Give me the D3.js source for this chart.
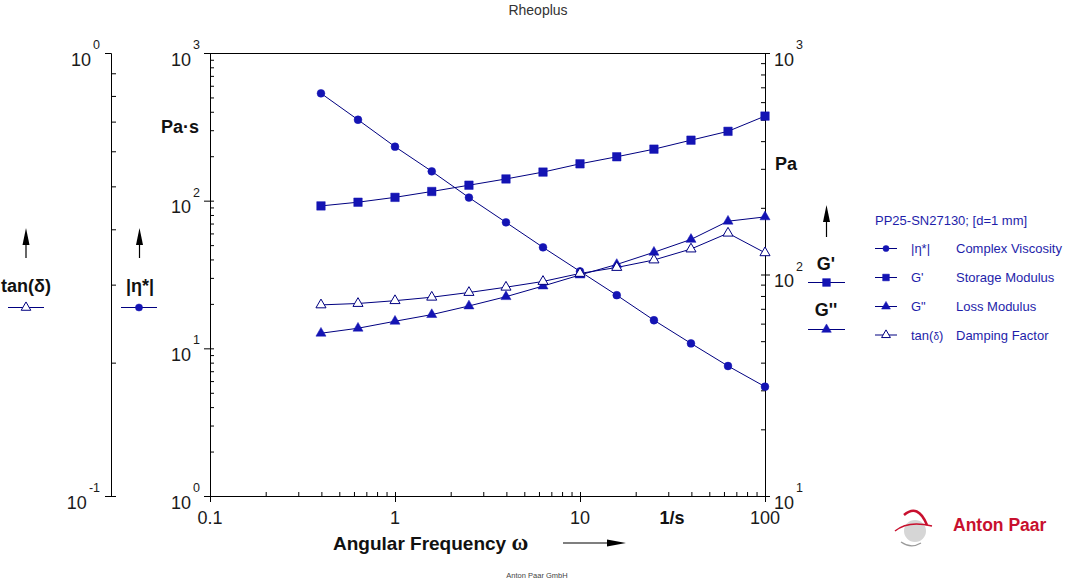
<!DOCTYPE html>
<html>
<head>
<meta charset="utf-8">
<script src="https://cdn.jsdelivr.net/npm/d3@7"></script>
<style>
  html, body { margin: 0; padding: 0; background: #fff; }
  svg { display: block; }
  text { font-family: Arial, "Liberation Sans", sans-serif; }
</style>
</head>
<body>
<svg id="chart" width="1065" height="581"></svg>
<script>
// ---------- data ----------
const freq      = [0.398, 0.631, 1, 1.58, 2.51, 3.98, 6.31, 10, 15.8, 25.1, 39.8, 63.1, 100];
const viscosity = [533, 353, 232, 158, 105, 71.3, 48.3, 33.2, 22.9, 15.5, 10.8, 7.59, 5.50];
const storage   = [204, 212, 223, 237, 253, 270, 290, 316, 340, 368, 404, 443, 519];
const loss      = [54.3, 57.2, 61.5, 65.9, 72.1, 79.4, 88.7, 99.5, 111, 126, 144, 174, 182];
const tanDelta  = [0.270, 0.272, 0.276, 0.281, 0.288, 0.296, 0.305, 0.318, 0.328, 0.341, 0.361, 0.392, 0.354];

const xTicks = [0.1, 1, 10, 100];
const xTickLabels = ["0.1", "1", "10", "100"];
const viscTicks = [1, 10, 100, 1000];
const gTicks = [10, 100, 1000];
const tanTicks = [0.1, 1];

const legendTitle = "PP25-SN27130; [d=1 mm]";
const legendShort = ["|η*|", "G'", "G\"", "tan(δ)"];
const legendLong  = ["Complex Viscosity", "Storage Modulus", "Loss Modulus", "Damping Factor"];

// ---------- setup ----------
const svg = d3.select("#chart");
const L = 210, R = 765, T = 53, B = 496;
const TAN_X = 111;

const x  = d3.scaleLog().domain([0.1, 100]).range([L, R]);
const yV = d3.scaleLog().domain([1, 1000]).range([B, T]);
const yG = d3.scaleLog().domain([10, 1000]).range([B, T]);
const yT = d3.scaleLog().domain([0.1, 1]).range([B, T]);

const MARK = "#1414b4";
const LINE = "#000080";
const LEG = "#1e1eaa";

function minors(decades) {
  const out = [];
  decades.forEach(d => { for (let k = 1; k <= 9; k++) out.push(k * d); });
  return out;
}
function styleAxis(g) {
  g.selectAll("path.domain").attr("stroke", "#000").attr("stroke-width", 1);
  g.selectAll(".tick line").attr("stroke", "#000").attr("stroke-width", 1);
  g.selectAll(".tick text").remove();
}

// top border
svg.append("line").attr("x1", L - 5).attr("x2", R + 5).attr("y1", T + 0.5).attr("y2", T + 0.5)
  .attr("stroke", "#000").attr("stroke-width", 1);

// viscosity axis (left)
let g = svg.append("g").attr("transform", `translate(${L},0)`);
g.call(d3.axisLeft(yV).tickValues(minors([1, 10, 100]).concat([1000])).tickSize(-4).tickSizeOuter(0).tickFormat(""));
styleAxis(g);
g = svg.append("g").attr("transform", `translate(${L},0)`);
g.call(d3.axisLeft(yV).tickValues(viscTicks).tickSize(6).tickSizeOuter(0).tickFormat(""));
styleAxis(g);

// tan axis (far left)
g = svg.append("g").attr("transform", `translate(${TAN_X},0)`);
g.call(d3.axisLeft(yT).tickValues(minors([0.1])).tickSize(-5).tickSizeOuter(0).tickFormat(""));
styleAxis(g);
g = svg.append("g").attr("transform", `translate(${TAN_X},0)`);
g.call(d3.axisLeft(yT).tickValues(tanTicks).tickSize(6).tickSizeOuter(0).tickFormat(""));
styleAxis(g);

// G axis (right)
g = svg.append("g").attr("transform", `translate(${R},0)`);
g.call(d3.axisRight(yG).tickValues(minors([10, 100]).concat([1000])).tickSize(-4).tickSizeOuter(0).tickFormat(""));
styleAxis(g);
g = svg.append("g").attr("transform", `translate(${R},0)`);
g.call(d3.axisRight(yG).tickValues(gTicks).tickSize(5).tickSizeOuter(0).tickFormat(""));
styleAxis(g);

// x axis (bottom)
g = svg.append("g").attr("transform", `translate(0,${B})`);
g.call(d3.axisBottom(x).tickValues(minors([0.1, 1, 10]).concat([100])).tickSize(-4).tickSizeOuter(0).tickFormat(""));
styleAxis(g);
g = svg.append("g").attr("transform", `translate(0,${B})`);
g.call(d3.axisBottom(x).tickValues(xTicks).tickSize(6).tickSizeOuter(0).tickFormat(""));
styleAxis(g);

// ---------- tick labels ----------
function powLabel(xpos, ypos, exp, anchor) {
  const t = svg.append("text").attr("x", xpos).attr("y", ypos + 12.5)
    .attr("text-anchor", anchor).attr("fill", "#1a1a1a");
  t.append("tspan").attr("font-size", 18).text("10");
  t.append("tspan").attr("font-size", 12.5).attr("dx", 2).attr("dy", -16.5).text(exp);
}
viscTicks.forEach(v => powLabel(L - 10, yV(v), Math.round(Math.log10(v)), "end"));
tanTicks.forEach(v => powLabel(TAN_X - 11, yT(v), Math.round(Math.log10(v)), "end"));
gTicks.forEach(v => powLabel(R + 9, yG(v), Math.round(Math.log10(v)), "start"));

xTicks.forEach((v, i) => {
  svg.append("text").attr("x", x(v)).attr("y", 524).attr("text-anchor", "middle")
    .attr("font-size", 18).attr("fill", "#1a1a1a").text(xTickLabels[i]);
});

// ---------- titles / units ----------
svg.append("text").attr("x", 538).attr("y", 15).attr("text-anchor", "middle")
  .attr("font-size", 14).attr("fill", "#333").text("Rheoplus");
svg.append("text").attr("x", 537).attr("y", 578).attr("text-anchor", "middle")
  .attr("font-size", 7.5).attr("fill", "#444").text("Anton Paar GmbH");

svg.append("text").attr("x", 672).attr("y", 524).attr("text-anchor", "middle")
  .attr("font-size", 18).attr("font-weight", "bold").attr("fill", "#111").text("1/s");

const xt = svg.append("text").attr("x", 333).attr("y", 550).attr("font-size", 19)
  .attr("font-weight", "bold").attr("fill", "#111");
xt.append("tspan").text("Angular Frequency ");
xt.append("tspan").attr("font-family", "'Liberation Serif', 'DejaVu Serif', serif").attr("font-size", 23).text("ω");

svg.append("text").attr("x", 161).attr("y", 133).attr("font-size", 18)
  .attr("font-weight", "bold").attr("fill", "#111").text("Pa·s");
svg.append("text").attr("x", 775).attr("y", 170).attr("font-size", 18)
  .attr("font-weight", "bold").attr("fill", "#111").text("Pa");

// arrows
function vArrow(cx, top, bottom) {
  svg.append("line").attr("x1", cx).attr("x2", cx).attr("y1", top + 10).attr("y2", bottom)
    .attr("stroke", "#000").attr("stroke-width", 1.2);
  svg.append("path").attr("d", `M${cx},${top} L${cx + 3.5},${top + 17} L${cx - 3.5},${top + 17} Z`).attr("fill", "#000");
}
vArrow(26, 228, 258);
vArrow(139.5, 228, 258);
vArrow(826.5, 205, 237);
svg.append("line").attr("x1", 563).attr("x2", 612).attr("y1", 543).attr("y2", 543)
  .attr("stroke", "#000").attr("stroke-width", 1.2);
svg.append("path").attr("d", "M626,543 L607,539.5 L607,546.5 Z").attr("fill", "#000");

svg.append("text").attr("x", 26).attr("y", 292).attr("text-anchor", "middle").attr("font-size", 18)
  .attr("font-weight", "bold").attr("fill", "#111").text("tan(δ)");
svg.append("text").attr("x", 140).attr("y", 292).attr("text-anchor", "middle").attr("font-size", 18)
  .attr("font-weight", "bold").attr("fill", "#111").text("|η*|");
svg.append("text").attr("x", 826).attr("y", 270).attr("text-anchor", "middle").attr("font-size", 18)
  .attr("font-weight", "bold").attr("fill", "#111").text("G'");
svg.append("text").attr("x", 826).attr("y", 316).attr("text-anchor", "middle").attr("font-size", 18)
  .attr("font-weight", "bold").attr("fill", "#111").text("G''");

// ---------- markers ----------
const circleSym = d3.symbol().type(d3.symbolCircle);
const squareSym = d3.symbol().type(d3.symbolSquare);
const triSym = d3.symbol().type(d3.symbolTriangle);

function marker(sel, kind, size) {
  if (kind === "circle") sel.attr("d", circleSym.size(size)()).attr("fill", MARK).attr("stroke", MARK).attr("stroke-width", 0.5);
  else if (kind === "square") sel.attr("d", squareSym.size(size)()).attr("fill", MARK).attr("stroke", MARK).attr("stroke-width", 0.5);
  else if (kind === "tri") sel.attr("d", triSym.size(size)()).attr("fill", MARK).attr("stroke", MARK).attr("stroke-width", 0.5);
  else sel.attr("d", triSym.size(size)()).attr("fill", "#fff").attr("stroke", LINE).attr("stroke-width", 1);
}

const series = [
  { vals: viscosity, y: yV, kind: "circle", size: 48 },
  { vals: storage,   y: yG, kind: "square", size: 72 },
  { vals: loss,      y: yG, kind: "tri",    size: 44 },
  { vals: tanDelta,  y: yT, kind: "open",   size: 44 }
];

series.forEach(s => {
  const line = d3.line().x((d, i) => x(freq[i])).y(d => s.y(d));
  svg.append("path").datum(s.vals).attr("d", line).attr("fill", "none")
    .attr("stroke", LINE).attr("stroke-width", 1);
});
series.forEach(s => {
  svg.append("g").selectAll("path").data(s.vals).join("path")
    .attr("transform", (d, i) => `translate(${x(freq[i])},${s.y(d)})`)
    .call(sel => marker(sel, s.kind, s.size));
});

// side axis legend symbols
function symLine(x1, x2, y, kind, size) {
  svg.append("line").attr("x1", x1).attr("x2", x2).attr("y1", y).attr("y2", y).attr("stroke", LINE).attr("stroke-width", 1);
  svg.append("path").attr("transform", `translate(${(x1 + x2) / 2},${y})`).call(sel => marker(sel, kind, size));
}
symLine(8, 44, 307.5, "open", 40);
symLine(121, 157, 307.5, "circle", 40);
symLine(808, 845, 282.5, "square", 60);
symLine(808, 845, 329.5, "tri", 40);

// ---------- legend ----------
svg.append("text").attr("x", 875).attr("y", 225).attr("font-size", 13).attr("fill", LEG).text(legendTitle);
const legKinds = ["circle", "square", "tri", "open"];
const legSizes = [30, 45, 34, 34];
const legY = [248.5, 277.5, 306.5, 335];
legKinds.forEach((k, i) => {
  symLine(875, 897, legY[i], k, legSizes[i]);
  const st = svg.append("text").attr("x", 911).attr("y", legY[i] + 4.5).attr("font-size", 13).attr("fill", LEG);
  if (i === 3) {
    st.append("tspan").text("tan(");
    st.append("tspan").attr("font-size", 10).text("δ");
    st.append("tspan").text(")");
  } else st.text(legendShort[i]);
  svg.append("text").attr("x", 956).attr("y", legY[i] + 4.5).attr("font-size", 13).attr("fill", LEG).text(legendLong[i]);
});

// ---------- Anton Paar logo ----------
const logo = svg.append("g");
logo.append("circle").attr("cx", 915).attr("cy", 531).attr("r", 11).attr("fill", "#d6d6d6");
logo.append("path").attr("d", "M904,515 Q918,503 927,525").attr("fill", "none").attr("stroke", "#c8102e").attr("stroke-width", 2.5);
logo.append("path").attr("d", "M895,531 Q908,520 932,526").attr("fill", "none").attr("stroke", "#c8102e").attr("stroke-width", 1.5);
logo.append("path").attr("d", "M901,542 Q911,549 921,543").attr("fill", "none").attr("stroke", "#999").attr("stroke-width", 1.2);
svg.append("text").attr("x", 953).attr("y", 531).attr("font-size", 17.5).attr("font-weight", "bold")
  .attr("fill", "#c8102e").text("Anton Paar");
</script>
</body>
</html>
